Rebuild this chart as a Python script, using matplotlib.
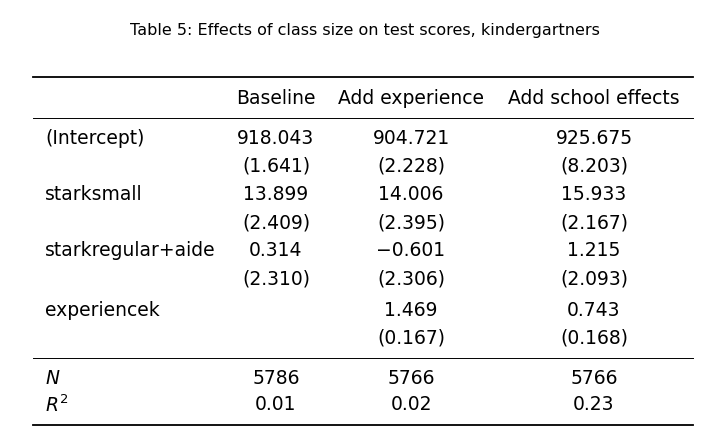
import matplotlib
matplotlib.use("Agg")
import matplotlib.pyplot as plt
from matplotlib.lines import Line2D

W, H = 721, 445

title = "Table 5: Effects of class size on test scores, kindergartners"
columns = ["Baseline", "Add experience", "Add school effects"]
row_labels = ["(Intercept)", "", "starksmall", "", "starkregular+aide", "", "experiencek", ""]
cells = [
    ["918.043", "904.721", "925.675"],
    ["(1.641)", "(2.228)", "(8.203)"],
    ["13.899", "14.006", "15.933"],
    ["(2.409)", "(2.395)", "(2.167)"],
    ["0.314", "\u22120.601", "1.215"],
    ["(2.310)", "(2.306)", "(2.093)"],
    ["", "1.469", "0.743"],
    ["", "(0.167)", "(0.168)"],
]
stat_labels = ["$N$", "$R^2$"]
stat_cells = [
    ["5786", "5766", "5766"],
    ["0.01", "0.02", "0.23"],
]

fig = plt.figure(figsize=(W / 100, H / 100), dpi=100)
plt.rcParams["mathtext.fontset"] = "dejavusans"


def px(x, y):
    return x / W, 1 - y / H


def put(x, y, s, ha="center", size=13.5):
    fig.text(*px(x, y), s, ha=ha, va="center", fontsize=size, family="DejaVu Sans")


def rule(y, lw):
    x0, y0 = px(33, y)
    x1, _ = px(693, y)
    fig.add_artist(Line2D([x0, x1], [y0, y0], color="black", lw=lw, transform=fig.transFigure))


col_x = [276, 411, 594]
put(365, 30, title, size=11.5)
rule(77, 1.3)
for cx, c in zip(col_x, columns):
    put(cx, 99, c)
rule(118, 0.7)

row_y = [138, 166, 195, 223, 251, 279, 310, 338]
for ry, lab, vals in zip(row_y, row_labels, cells):
    put(45, ry, lab, ha="left")
    for cx, v in zip(col_x, vals):
        put(cx, ry, v)
rule(358, 0.7)

for ry, lab, vals in zip([378, 405], stat_labels, stat_cells):
    put(45, ry, lab, ha="left")
    for cx, v in zip(col_x, vals):
        put(cx, ry, v)
rule(425, 1.3)

fig.savefig("out.png", dpi=100)
